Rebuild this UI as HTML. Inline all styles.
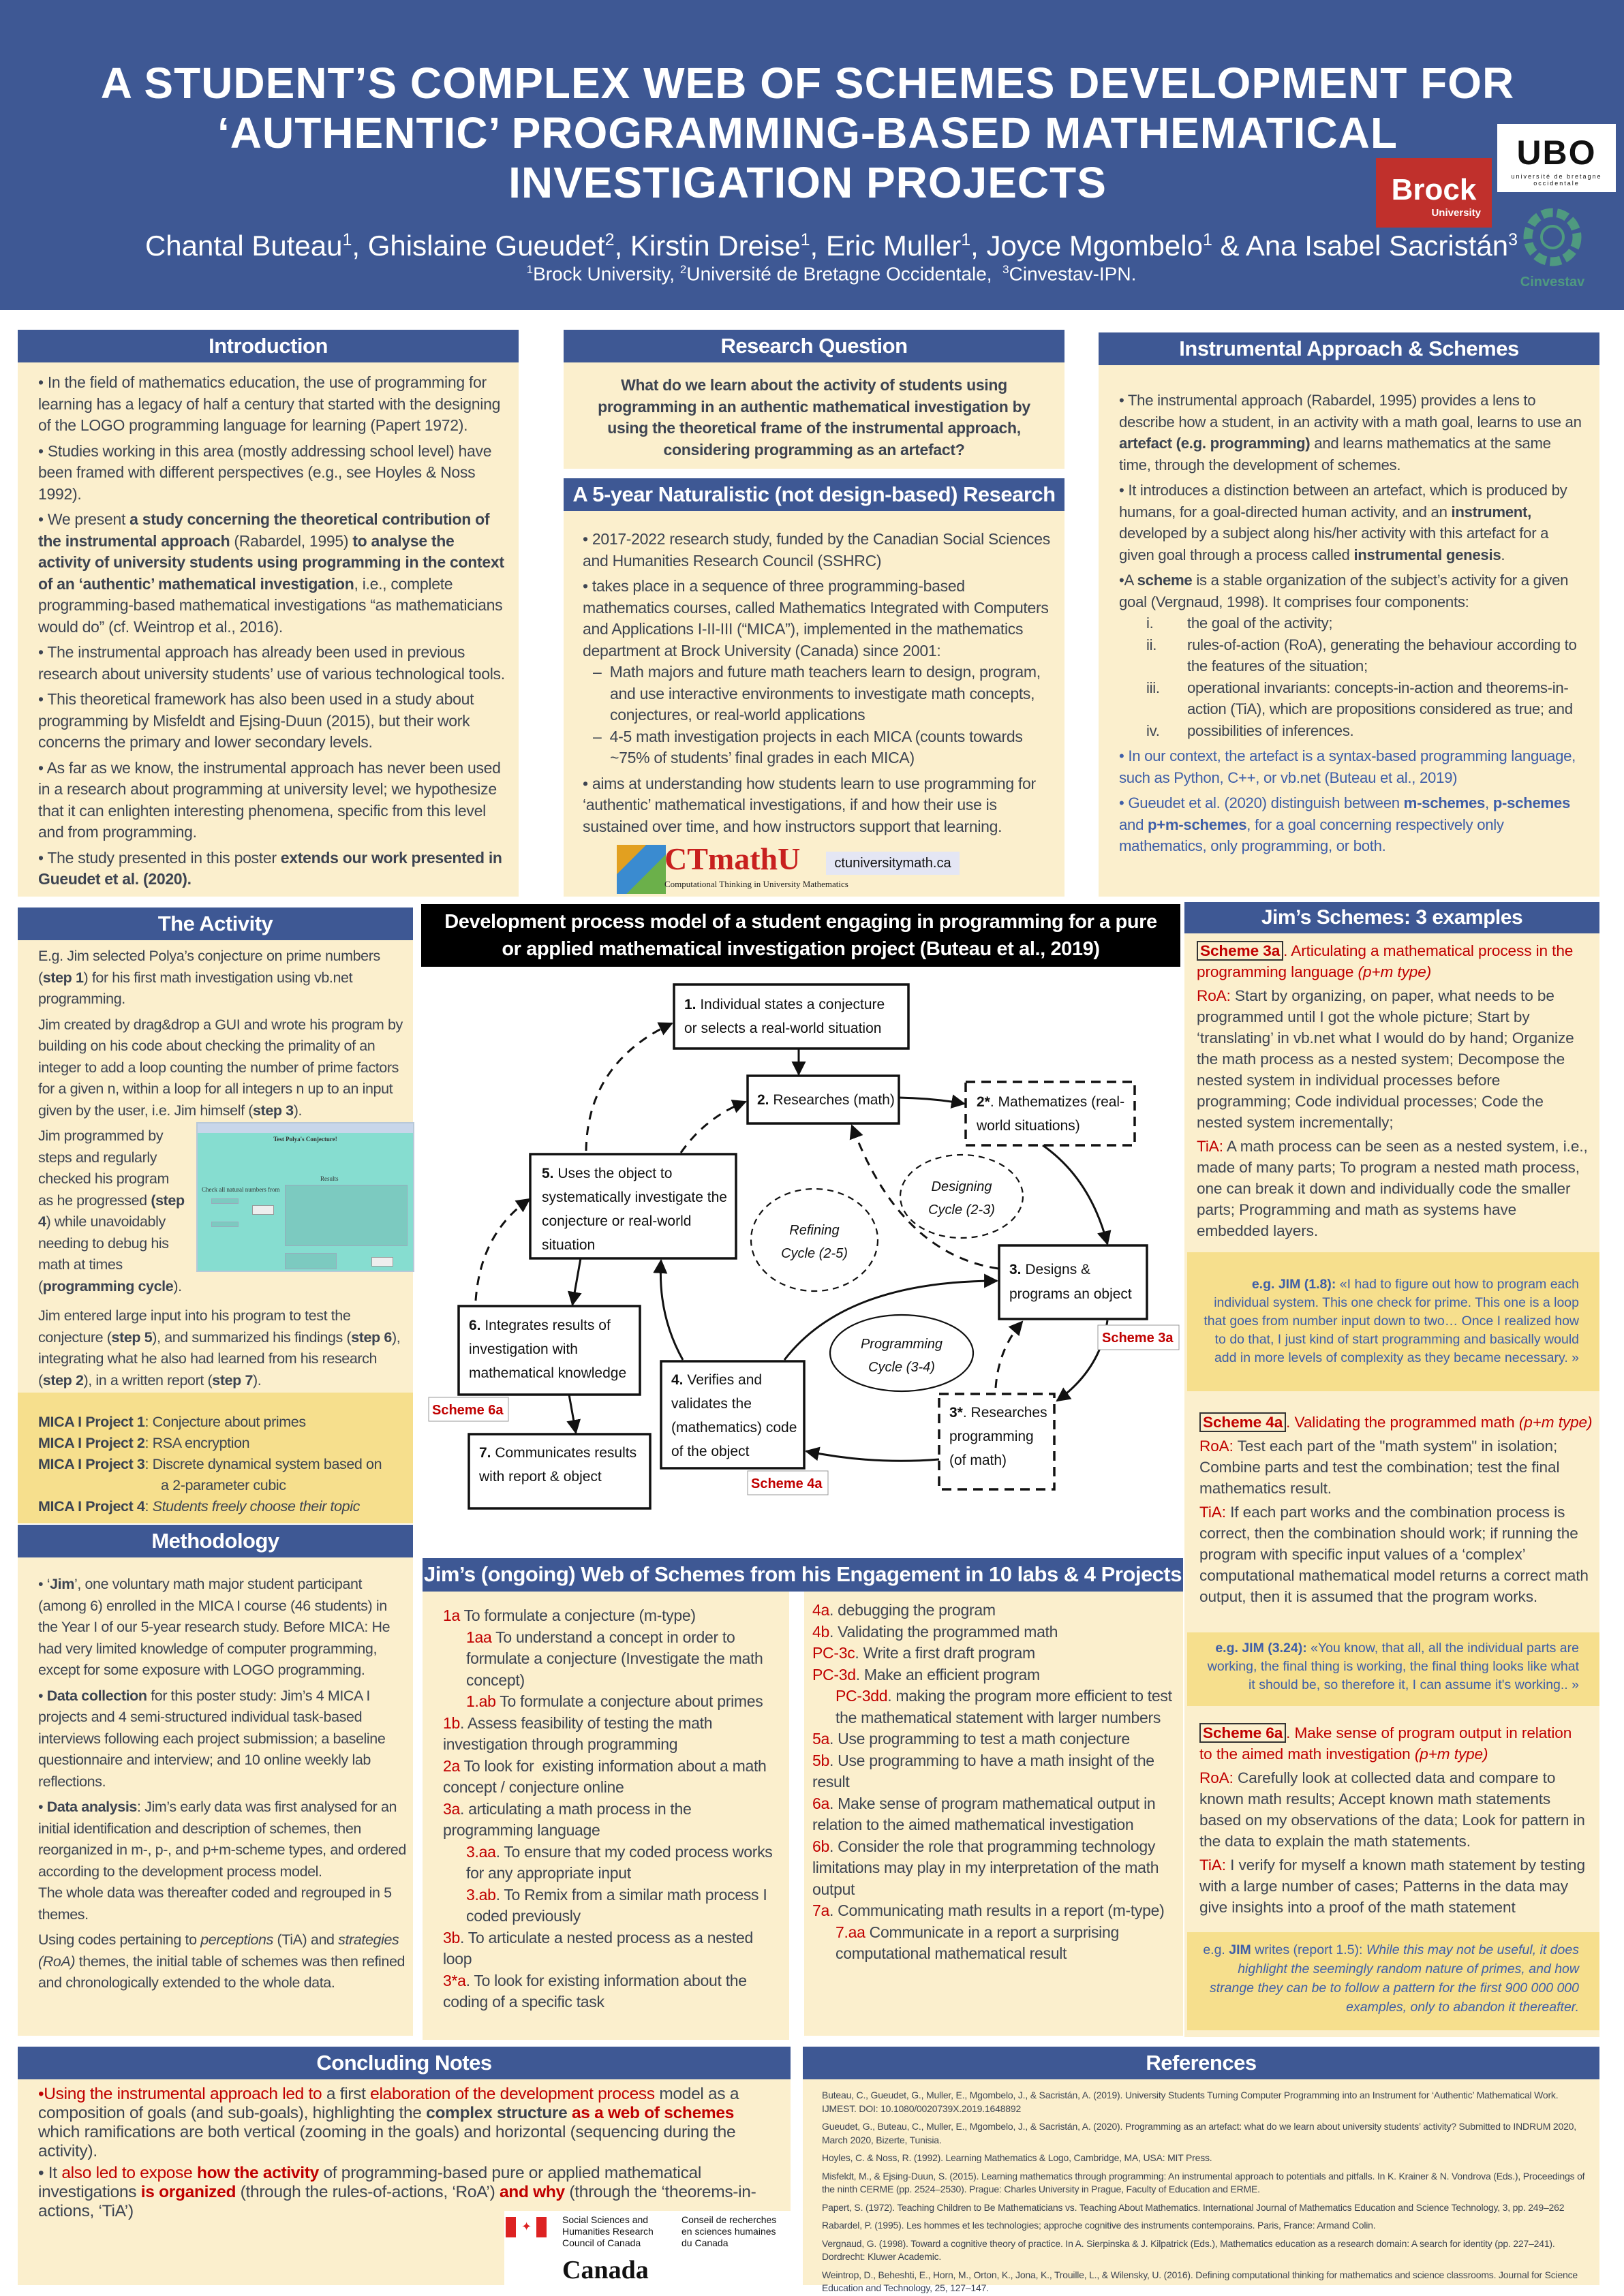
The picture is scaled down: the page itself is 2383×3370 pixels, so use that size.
<!DOCTYPE html>
<html><head><meta charset="utf-8">
<style>
*{margin:0;padding:0;box-sizing:border-box}
body{width:2383px;height:3370px;position:relative;background:#fff;font-family:"Liberation Sans",Arial,sans-serif;color:#3d4451;overflow:hidden}
.abs{position:absolute}
.hdr{position:absolute;background:#3e5894;color:#fff;font-weight:bold;text-align:center;font-size:31px;line-height:48px;letter-spacing:-0.5px}
.cr{position:absolute;background:#fbefcd}
.yl{position:absolute;background:#f6df8d}
.t{font-size:23px;line-height:31.5px;letter-spacing:-0.3px}
.t p{margin-bottom:6px}
.r{color:#c00000}
.b{font-weight:bold}
.sm{font-size:14px;line-height:19.5px;letter-spacing:-0.2px}
.sm p{margin-bottom:7px}
.blu{color:#3e5ea8}
.sch{border:2px solid #333;padding:0 3px;font-weight:bold;color:#c00000}
</style></head><body>

<!-- header -->
<div class="abs" style="left:0;top:0;width:2383px;height:455px;background:#3e5894"></div>
<div class="abs" style="left:20px;top:86px;width:2330px;text-align:center;color:#fff;font-weight:bold;font-size:64px;line-height:73px;letter-spacing:1px">A STUDENT’S COMPLEX WEB OF SCHEMES DEVELOPMENT FOR<br>‘AUTHENTIC’ PROGRAMMING-BASED MATHEMATICAL<br>INVESTIGATION PROJECTS</div>
<div class="abs" style="left:100px;top:328px;width:2240px;text-align:center;color:#fff;font-size:42px;line-height:48px">Chantal Buteau<sup style="font-size:25px">1</sup>, Ghislaine Gueudet<sup style="font-size:25px">2</sup>, Kirstin Dreise<sup style="font-size:25px">1</sup>, Eric Muller<sup style="font-size:25px">1</sup>, Joyce Mgombelo<sup style="font-size:25px">1</sup> &amp; Ana Isabel Sacristán<sup style="font-size:25px">3</sup></div>
<div class="abs" style="left:100px;top:380px;width:2240px;text-align:center;color:#fff;font-size:28px;line-height:32px"><sup style="font-size:17px">1</sup>Brock University, <sup style="font-size:17px">2</sup>Université de Bretagne Occidentale,&nbsp; <sup style="font-size:17px">3</sup>Cinvestav-IPN.</div>
<div class="abs" style="left:2019px;top:232px;width:170px;height:102px;background:#c0302c;color:#fff;text-align:center;font-weight:bold"><div style="font-size:44px;line-height:50px;margin-top:22px">Brock</div><div style="font-size:15px;text-align:right;padding-right:16px">University</div></div>
<div class="abs" style="left:2197px;top:182px;width:174px;height:100px;background:#fff;color:#111;text-align:center"><div style="font-size:50px;font-weight:bold;line-height:60px;margin-top:12px;letter-spacing:2px">UBO</div><div style="font-size:9px;letter-spacing:2px">université de bretagne<br>occidentale</div></div>
<svg class="abs" style="left:2228px;top:302px" width="110" height="125"><circle cx="50" cy="46" r="36" fill="none" stroke="#4f9a80" stroke-width="13" stroke-dasharray="16 6"/><circle cx="50" cy="46" r="16" fill="none" stroke="#4f9a80" stroke-width="4"/><text x="50" y="118" text-anchor="middle" font-size="20" font-weight="bold" fill="#4f9a80" font-family="Liberation Sans">Cinvestav</text></svg>

<!-- Introduction -->
<div class="hdr" style="left:26px;top:484px;width:735px">Introduction</div>
<div class="cr t" style="left:26px;top:532px;width:735px;height:784px;padding:14px 20px 0 30px">
<p>• In the field of mathematics education, the use of programming for learning has a legacy of half a century that started with the designing of the LOGO programming language for learning (Papert 1972).</p>
<p>• Studies working in this area (mostly addressing school level) have been framed with different perspectives (e.g., see Hoyles &amp; Noss 1992).</p>
<p>• We present <b>a study concerning the theoretical contribution of the instrumental approach</b> (Rabardel, 1995) <b>to analyse the activity of university students using programming in the context of an ‘authentic’ mathematical investigation</b>, i.e., complete programming-based mathematical investigations “as mathematicians would do” (cf. Weintrop et al., 2016).</p>
<p>• The instrumental approach has already been used in previous research about university students’ use of various technological tools.</p>
<p>• This theoretical framework has also been used in a study about programming by Misfeldt and Ejsing-Duun (2015), but their work concerns the primary and lower secondary levels.</p>
<p>• As far as we know, the instrumental approach has never been used in a research about programming at university level; we hypothesize that it can enlighten interesting phenomena, specific from this level and from programming.</p>
<p>• The study presented in this poster <b>extends our work presented in Gueudet et al. (2020).</b></p>
</div>

<!-- Research Q -->
<div class="hdr" style="left:827px;top:484px;width:735px">Research Question</div>
<div class="cr t b" style="left:827px;top:532px;width:735px;height:156px;padding:18px 30px 0;text-align:center">What do we learn about the activity of students using programming in an authentic mathematical investigation by using the theoretical frame of the instrumental approach, considering programming as an artefact?</div>
<div class="hdr" style="left:827px;top:702px;width:735px">A 5-year Naturalistic (not design-based) Research</div>
<div class="cr t" style="left:827px;top:750px;width:735px;height:566px;padding:26px 20px 0 28px">
<p>• 2017-2022 research study, funded by the Canadian Social Sciences and Humanities Research Council (SSHRC)</p>
<p style="margin-bottom:0">• takes place in a sequence of three programming-based mathematics courses, called Mathematics Integrated with Computers and Applications I-II-III (“MICA”), implemented in the mathematics department at Brock University (Canada) since 2001:</p>
<p style="margin:0 0 0 40px;text-indent:-25px">– &nbsp;Math majors and future math teachers learn to design, program, and use interactive environments to investigate math concepts, conjectures, or real-world applications</p>
<p style="margin:0 0 6px 40px;text-indent:-25px">– &nbsp;4-5 math investigation projects in each MICA (counts towards ~75% of students’ final grades in each MICA)</p>
<p>• aims at understanding how students learn to use programming for ‘authentic’ mathematical investigations, if and how their use is sustained over time, and how instructors support that learning.</p>
</div>
<div class="abs" style="left:905px;top:1240px;width:72px;height:72px;background:linear-gradient(135deg,#e2a020 0 30%,#3a8bd0 30% 60%,#6bb04a 60%)"></div>
<div class="abs" style="left:975px;top:1236px;font-family:'Liberation Serif',serif;font-size:46px;font-weight:bold;color:#c8201e;line-height:50px">CTmathU</div>
<div class="abs" style="left:975px;top:1290px;font-family:'Liberation Serif',serif;font-size:13px;color:#222">Computational Thinking in University Mathematics</div>
<div class="abs" style="left:1212px;top:1250px;width:196px;height:34px;background:#e4e6f4;font-size:20px;line-height:34px;text-align:center;color:#111">ctuniversitymath.ca</div>

<!-- Instrumental -->
<div class="hdr" style="left:1612px;top:488px;width:735px">Instrumental Approach &amp; Schemes</div>
<div class="cr t" style="left:1612px;top:536px;width:735px;height:780px;padding:36px 22px 0 30px;font-size:22.2px">
<p>• The instrumental approach (Rabardel, 1995) provides a lens to describe how a student, in an activity with a math goal, learns to use an <b>artefact (e.g. programming)</b> and learns mathematics at the same time, through the development of schemes.</p>
<p>• It introduces a distinction between an artefact, which is produced by humans, for a goal-directed human activity, and an <b>instrument,</b> developed by a subject along his/her activity with this artefact for a given goal through a process called <b>instrumental genesis</b>.</p>
<p style="margin-bottom:0">•A <b>scheme</b> is a stable organization of the subject’s activity for a given goal (Vergnaud, 1998). It comprises four components:</p>
<div style="padding-left:100px;position:relative">
<p style="margin:0"><span class="abs" style="left:40px">i.</span>the goal of the activity;</p>
<p style="margin:0"><span class="abs" style="left:40px">ii.</span>rules-of-action (RoA), generating the behaviour according to the features of the situation;</p>
<p style="margin:0"><span class="abs" style="left:40px">iii.</span>operational invariants: concepts-in-action and theorems-in-action (TiA), which are propositions considered as true; and</p>
<p style="margin:0 0 6px"><span class="abs" style="left:40px">iv.</span>possibilities of inferences.</p>
</div>
<p class="blu">• In our context, the artefact is a syntax-based programming language, such as Python, C++, or vb.net (Buteau et al., 2019)</p>
<p class="blu">• Gueudet et al. (2020) distinguish between <b>m-schemes</b>, <b>p-schemes</b> and <b>p+m-schemes</b>, for a goal concerning respectively only mathematics, only programming, or both.</p>
</div>

<!-- Activity -->
<div class="hdr" style="left:26px;top:1332px;width:580px">The Activity</div>
<div class="cr t" style="left:26px;top:1380px;width:580px;height:664px;padding:8px 6px 0 30px;font-size:21.5px;letter-spacing:-0.4px">
<p>E.g. Jim selected Polya’s conjecture on prime numbers (<b>step 1</b>) for his first math investigation using vb.net programming.</p>
<p>Jim created by drag&amp;drop a GUI and wrote his program by building on his code about checking the primality of an integer to add a loop counting the number of prime factors for a given n, within a loop for all integers n up to an input given by the user, i.e. Jim himself (<b>step 3</b>).</p>
<p style="margin-bottom:12px">Jim programmed by<br>steps and regularly<br>checked his program<br>as he progressed <b>(step<br>4</b>) while unavoidably<br>needing to debug his<br>math at times<br>(<b>programming cycle</b>).</p>
<p>Jim entered large input into his program to test the conjecture (<b>step 5</b>), and summarized his findings (<b>step 6</b>), integrating what he also had learned from his research (<b>step 2</b>), in a written report (<b>step 7</b>).</p>
</div>
<div class="abs" style="left:288px;top:1647px;width:320px;height:220px;background:#86ddd0;border:2px solid #b8c8d8;font-family:'Liberation Serif',serif;font-size:9px;color:#333">
<div style="height:14px;background:#c8d6ea"></div>
<div style="text-align:center;font-weight:bold;margin-top:4px">Test Polya's Conjecture!</div>
<div class="abs" style="left:180px;top:76px">Results</div>
<div class="abs" style="left:6px;top:92px">Check all natural numbers from</div>
<div class="abs" style="left:20px;top:110px;width:40px;height:8px;background:#7ccac0;border:1px solid #9ab"></div>
<div class="abs" style="left:20px;top:144px;width:40px;height:8px;background:#7ccac0;border:1px solid #9ab"></div>
<div class="abs" style="left:80px;top:120px;width:32px;height:14px;background:#eee;border:1px solid #999"></div>
<div class="abs" style="left:128px;top:90px;width:180px;height:90px;background:#7ccac0;border:1px solid #9ab"></div>
<div class="abs" style="left:128px;top:190px;width:76px;height:24px;background:#7ccac0;border:1px solid #9ab"></div>
<div class="abs" style="left:255px;top:196px;width:32px;height:14px;background:#eee;border:1px solid #999"></div>
</div>
<div class="yl t" style="left:26px;top:2044px;width:580px;height:192px;padding:28px 6px 0 30px;line-height:31px;font-size:21.5px;letter-spacing:-0.4px">
<b>MICA I Project 1</b>: Conjecture about primes<br><b>MICA I Project 2</b>: RSA encryption<br><b>MICA I Project 3</b>: Discrete dynamical system based on<br><span style="padding-left:180px">a 2-parameter cubic</span><br><b>MICA I Project 4</b>: <i>Students freely choose their topic</i></div>

<!-- Methodology -->
<div class="hdr" style="left:26px;top:2238px;width:580px">Methodology</div>
<div class="cr t" style="left:26px;top:2286px;width:580px;height:702px;padding:24px 6px 0 30px;font-size:21.5px;letter-spacing:-0.4px">
<p>• ‘<b>Jim</b>’, one voluntary math major student participant (among 6) enrolled in the MICA I course (46 students) in the Year I of our 5-year research study. Before MICA: He had very limited knowledge of computer programming, except for some exposure with LOGO programming.</p>
<p>• <b>Data collection</b> for this poster study: Jim’s 4 MICA I projects and 4 semi-structured individual task-based interviews following each project submission; a baseline questionnaire and interview; and 10 online weekly lab reflections.</p>
<p style="margin-bottom:0">• <b>Data analysis</b>: Jim’s early data was first analysed for an initial identification and description of schemes, then reorganized in m-, p-, and p+m-scheme types, and ordered according to the development process model.</p>
<p>The whole data was thereafter coded and regrouped in 5 themes.</p>
<p>Using codes pertaining to <i>perceptions</i> (TiA) and <i>strategies (RoA)</i> themes, the initial table of schemes was then refined and chronologically extended to the whole data.</p>
</div>

<!-- Diagram -->
<div class="abs" style="left:618px;top:1327px;width:1114px;height:92px;background:#000;color:#fff;font-weight:bold;font-size:29px;line-height:40px;text-align:center;padding-top:6px;letter-spacing:-0.4px">Development process model of a student engaging in programming for a pure<br>or applied mathematical investigation project (Buteau et al., 2019)</div>
<svg class="abs" style="left:0;top:0" width="2383" height="3370">
<defs><marker id="ah" viewBox="0 0 10 10" refX="9" refY="5" markerWidth="7" markerHeight="7" orient="auto-start-reverse"><path d="M0,0 L10,5 L0,10 z" fill="#111"/></marker></defs>
<g fill="#fff" stroke="#111" stroke-width="3.5">
<rect x="989" y="1445" width="344" height="94"/>
<rect x="1097" y="1579" width="222" height="70"/>
<rect x="778" y="1694" width="302" height="153"/>
<rect x="1466" y="1828" width="217" height="108"/>
<rect x="673" y="1917" width="266" height="130"/>
<rect x="970" y="1998" width="210" height="157"/>
<rect x="688" y="2105" width="266" height="109"/>
<rect x="1417" y="1588" width="248" height="93" stroke-dasharray="14 9"/>
<rect x="1378" y="2046" width="169" height="140" stroke-dasharray="14 9"/>
</g>
<g fill="none" stroke="#111" stroke-width="2.2" stroke-dasharray="9 7">
<ellipse cx="1411" cy="1756" rx="90" ry="61"/>
<ellipse cx="1195" cy="1820" rx="93" ry="75"/>
</g>
<ellipse cx="1323" cy="1986" rx="105" ry="56" fill="none" stroke="#111" stroke-width="2.2"/>
<g fill="none" stroke="#111" stroke-width="3" marker-end="url(#ah)">
<path d="M1172 1539 L1172 1577"/>
<path d="M1319 1611 Q1370 1612 1415 1620"/>
<path d="M1530 1681 Q1600 1730 1625 1826"/>
<path d="M1625 1938 Q1615 2010 1551 2056"/>
<path d="M1378 2142 Q1280 2150 1183 2130"/>
<path d="M1151 1996 Q1240 1880 1463 1880"/>
<path d="M1002 1996 Q965 1930 970 1850"/>
<path d="M852 1847 L840 1915"/>
<path d="M835 2047 L845 2103"/>
</g>
<g fill="none" stroke="#111" stroke-width="3" stroke-dasharray="13 10" marker-end="url(#ah)">
<path d="M860 1689 Q862 1560 986 1502"/>
<path d="M999 1692 Q1035 1640 1094 1617"/>
<path d="M698 1909 Q705 1810 777 1760"/>
<path d="M1465 1862 Q1320 1840 1250 1652"/>
<path d="M1461 2037 Q1465 1980 1500 1940"/>
</g>
<g font-family="Liberation Sans" font-size="21" fill="#111">
<text x="1004" y="1481"><tspan font-weight="bold">1.</tspan> Individual states a conjecture</text>
<text x="1004" y="1516">or selects a real-world situation</text>
<text x="1111" y="1621"><tspan font-weight="bold">2.</tspan> Researches (math)</text>
<text x="1433" y="1624"><tspan font-weight="bold">2*</tspan>. Mathematizes (real-</text>
<text x="1433" y="1659">world situations)</text>
<text x="795" y="1729"><tspan font-weight="bold">5.</tspan> Uses the object to</text>
<text x="795" y="1764">systematically investigate the</text>
<text x="795" y="1799">conjecture or real-world</text>
<text x="795" y="1834">situation</text>
<text x="1481" y="1870"><tspan font-weight="bold">3.</tspan> Designs &amp;</text>
<text x="1481" y="1906">programs an object</text>
<text x="688" y="1952"><tspan font-weight="bold">6.</tspan> Integrates results of</text>
<text x="688" y="1987">investigation with</text>
<text x="688" y="2022">mathematical knowledge</text>
<text x="985" y="2032"><tspan font-weight="bold">4.</tspan> Verifies and</text>
<text x="985" y="2067">validates the</text>
<text x="985" y="2102">(mathematics) code</text>
<text x="985" y="2137">of the object</text>
<text x="703" y="2139"><tspan font-weight="bold">7.</tspan> Communicates results</text>
<text x="703" y="2174">with report &amp; object</text>
<text x="1393" y="2080"><tspan font-weight="bold">3*</tspan>. Researches</text>
<text x="1393" y="2115">programming</text>
<text x="1393" y="2150">(of math)</text>
<g font-style="italic" font-size="20" text-anchor="middle">
<text x="1411" y="1748">Designing</text><text x="1411" y="1782">Cycle (2-3)</text>
<text x="1195" y="1812">Refining</text><text x="1195" y="1846">Cycle (2-5)</text>
<text x="1323" y="1979">Programming</text><text x="1323" y="2013">Cycle (3-4)</text>
</g></g>
<g font-family="Liberation Sans" font-size="20" font-weight="bold" fill="#c00000">
<rect x="1611" y="1945" width="119" height="36" fill="#fff" stroke="#999" stroke-width="1"/><text x="1617" y="1970">Scheme 3a</text>
<rect x="629" y="2051" width="117" height="35" fill="#fff" stroke="#999" stroke-width="1"/><text x="634" y="2076">Scheme 6a</text>
<rect x="1097" y="2159" width="118" height="35" fill="#fff" stroke="#999" stroke-width="1"/><text x="1102" y="2184">Scheme 4a</text>
</g>
</svg>

<!-- Jim's web -->
<div class="hdr" style="left:620px;top:2287px;width:1116px;height:49px;font-size:31px">Jim’s (ongoing) Web of Schemes from his Engagement in 10 labs &amp; 4 Projects</div>
<div class="cr t" style="left:620px;top:2336px;width:538px;height:658px;padding:20px 10px 0 30px;line-height:31.5px">
<span class="r">1a</span> To formulate a conjecture (m-type)<br>
<div style="padding-left:34px"><span class="r">1aa</span> To understand a concept in order to formulate a conjecture (Investigate the math concept)<br><span class="r">1.ab</span> To formulate a conjecture about primes</div>
<span class="r">1b</span>. Assess feasibility of testing the math investigation through programming<br>
<span class="r">2a</span> To look for&nbsp; existing information about a math concept / conjecture online<br>
<span class="r">3a</span>. articulating a math process in the programming language<br>
<div style="padding-left:34px"><span class="r">3.aa</span>. To ensure that my coded process works for any appropriate input<br><span class="r">3.ab</span>. To Remix from a similar math process I coded previously</div>
<span class="r">3b</span>. To articulate a nested process as a nested loop<br>
<span class="r">3*a</span>. To look for existing information about the coding of a specific task
</div>
<div class="cr t" style="left:1180px;top:2336px;width:556px;height:652px;padding:12px 14px 0 12px;line-height:31.5px">
<span class="r">4a</span>. debugging the program<br>
<span class="r">4b</span>. Validating the programmed math<br>
<span class="r">PC-3c</span>. Write a first draft program<br>
<span class="r">PC-3d</span>. Make an efficient program<br>
<div style="padding-left:34px"><span class="r">PC-3dd</span>. making the program more efficient to test the mathematical statement with larger numbers</div>
<span class="r">5a</span>. Use programming to test a math conjecture<br>
<span class="r">5b</span>. Use programming to have a math insight of the result<br>
<span class="r">6a</span>. Make sense of program mathematical output in relation to the aimed mathematical investigation<br>
<span class="r">6b</span>. Consider the role that programming technology limitations may play in my interpretation of the math output<br>
<span class="r">7a</span>. Communicating math results in a report (m-type)<br>
<div style="padding-left:34px"><span class="r">7.aa</span> Communicate in a report a surprising computational mathematical result</div>
</div>

<!-- Jim's schemes -->
<div class="hdr" style="left:1738px;top:1324px;width:609px;height:46px;line-height:46px;font-size:30px">Jim’s Schemes: 3 examples</div>
<div class="cr" style="left:1738px;top:1370px;width:609px;height:1620px"></div>
<div class="abs t" style="left:1756px;top:1380px;width:580px;font-size:22.6px;line-height:31px;letter-spacing:-0.1px">
<div class="r"><span class="sch">Scheme 3a</span>. Articulating a mathematical process in the programming language <i>(p+m type)</i></div>
<div style="margin-top:4px"><span class="r">RoA:</span> Start by organizing, on paper, what needs to be programmed until I got the whole picture; Start by ‘translating’ in vb.net what I would do by hand; Organize the math process as a nested system; Decompose the nested system in individual processes before programming; Code individual processes; Code the nested system incrementally;</div>
<div style="margin-top:4px"><span class="r">TiA:</span> A math process can be seen as a nested system, i.e., made of many parts; To program a nested math process, one can break it down and individually code the smaller parts; Programming and math as systems have embedded layers.</div>
</div>
<div class="yl" style="left:1742px;top:1838px;width:605px;height:204px;padding:34px 30px 0 16px;text-align:right;font-size:19.5px;line-height:27px;color:#3e5ea8"><b>e.g. JIM (1.8):</b> «I had to figure out how to program each individual system. This one check for prime. This one is a loop that goes from number input down to two… Once I realized how to do that, I just kind of start programming and basically would add in more levels of complexity as they became necessary. »</div>
<div class="abs t" style="left:1760px;top:2072px;width:580px;font-size:22.6px;line-height:31px;letter-spacing:-0.1px">
<div class="r"><span class="sch">Scheme 4a</span>. Validating the programmed math <i>(p+m type)</i></div>
<div style="margin-top:4px"><span class="r">RoA:</span> Test each part of the "math system" in isolation; Combine parts and test the combination; test the final mathematics result.</div>
<div style="margin-top:4px"><span class="r">TiA:</span> If each part works and the combination process is correct, then the combination should work; if running the program with specific input values of a ‘complex’ computational mathematical model returns a correct math output, then it is assumed that the program works.</div>
</div>
<div class="yl" style="left:1742px;top:2396px;width:605px;height:108px;padding:10px 30px 0 16px;text-align:right;font-size:19.5px;line-height:27px;color:#3e5ea8"><b>e.g. JIM (3.24):</b> «You know, that all, all the individual parts are working, the final thing is working, the final thing looks like what it should be, so therefore it, I can assume it's working.. »</div>
<div class="abs t" style="left:1760px;top:2528px;width:570px;font-size:22.6px;line-height:31px;letter-spacing:-0.1px">
<div class="r"><span class="sch">Scheme 6a</span>. Make sense of program output in relation to the aimed math investigation <i>(p+m type)</i></div>
<div style="margin-top:4px"><span class="r">RoA:</span> Carefully look at collected data and compare to known math results; Accept known math statements based on my observations of the data; Look for pattern in the data to explain the math statements.</div>
<div style="margin-top:4px"><span class="r">TiA:</span> I verify for myself a known math statement by testing with a large number of cases; Patterns in the data may give insights into a proof of the math statement</div>
</div>
<div class="yl" style="left:1742px;top:2836px;width:605px;height:144px;padding:12px 30px 0 16px;text-align:right;font-size:19.5px;line-height:28px;color:#3e5ea8">e.g. <b>JIM</b> writes (report 1.5): <i>While this may not be useful, it does highlight the seemingly random nature of primes, and how strange they can be to follow a pattern for the first 900 000 000 examples, only to abandon it thereafter.</i></div>

<!-- Concluding -->
<div class="hdr" style="left:26px;top:3004px;width:1134px">Concluding Notes</div>
<div class="cr" style="left:26px;top:3052px;width:1134px;height:302px;padding:8px 20px 0 30px;font-size:24.5px;line-height:28px;letter-spacing:-0.3px">
<p style="margin-bottom:4px"><span class="r">•Using the instrumental approach led to</span> a first <span class="r">elaboration of the development process</span> model as a composition of goals (and sub-goals), highlighting the <b>complex structure</b> <b class="r">as a web of schemes</b> which ramifications are both vertical (zooming in the goals) and horizontal (sequencing during the activity).</p>
<p>• It <span class="r">also led to expose</span> <b class="r">how the activity</b> of programming-based pure or applied mathematical investigations <b class="r">is organized</b> (through the rules-of-actions, ‘RoA’) <b class="r">and why</b> (through the ‘theorems-in-actions, ‘TiA’)</p>
</div>
<div class="abs" style="left:740px;top:3245px;width:420px;height:110px;background:#fff"></div>
<div class="abs" style="left:742px;top:3254px;width:60px;height:30px;background:linear-gradient(90deg,#d22 0 25%,#fff 25% 75%,#d22 75%)"></div>
<div class="abs" style="left:765px;top:3258px;color:#d22;font-size:18px">✦</div>
<div class="abs" style="left:825px;top:3250px;font-size:14px;line-height:17px;color:#111">Social Sciences and<br>Humanities Research<br>Council of Canada</div>
<div class="abs" style="left:1000px;top:3250px;font-size:14px;line-height:17px;color:#111">Conseil de recherches<br>en sciences humaines<br>du Canada</div>
<div class="abs" style="left:825px;top:3310px;font-family:'Liberation Serif',serif;font-size:38px;font-weight:bold;color:#111">Canada</div>

<!-- References -->
<div class="hdr" style="left:1178px;top:3004px;width:1169px">References</div>
<div class="cr sm" style="left:1178px;top:3052px;width:1169px;height:302px;padding:14px 16px 0 28px">
<p>Buteau, C., Gueudet, G., Muller, E., Mgombelo, J., &amp; Sacristán, A. (2019). University Students Turning Computer Programming into an Instrument for ‘Authentic’ Mathematical Work. IJMEST. DOI: 10.1080/0020739X.2019.1648892</p>
<p>Gueudet, G., Buteau, C., Muller, E., Mgombelo, J., &amp; Sacristán, A. (2020). Programming as an artefact: what do we learn about university students’ activity? Submitted to INDRUM 2020, March 2020, Bizerte, Tunisia.</p>
<p>Hoyles, C. &amp; Noss, R. (1992). Learning Mathematics &amp; Logo, Cambridge, MA, USA: MIT Press.</p>
<p>Misfeldt, M., &amp; Ejsing-Duun, S. (2015). Learning mathematics through programming: An instrumental approach to potentials and pitfalls. In K. Krainer &amp; N. Vondrova (Eds.), Proceedings of the ninth CERME (pp. 2524–2530). Prague: Charles University in Prague, Faculty of Education and ERME.</p>
<p>Papert, S. (1972). Teaching Children to Be Mathematicians vs. Teaching About Mathematics. International Journal of Mathematics Education and Science Technology, 3, pp. 249–262</p>
<p>Rabardel, P. (1995). Les hommes et les technologies; approche cognitive des instruments contemporains. Paris, France: Armand Colin.</p>
<p>Vergnaud, G. (1998). Toward a cognitive theory of practice. In A. Sierpinska &amp; J. Kilpatrick (Eds.), Mathematics education as a research domain: A search for identity (pp. 227–241). Dordrecht: Kluwer Academic.</p>
<p>Weintrop, D., Beheshti, E., Horn, M., Orton, K., Jona, K., Trouille, L., &amp; Wilensky, U. (2016). Defining computational thinking for mathematics and science classrooms. Journal for Science Education and Technology, 25, 127–147.</p>
</div>
</body></html>
